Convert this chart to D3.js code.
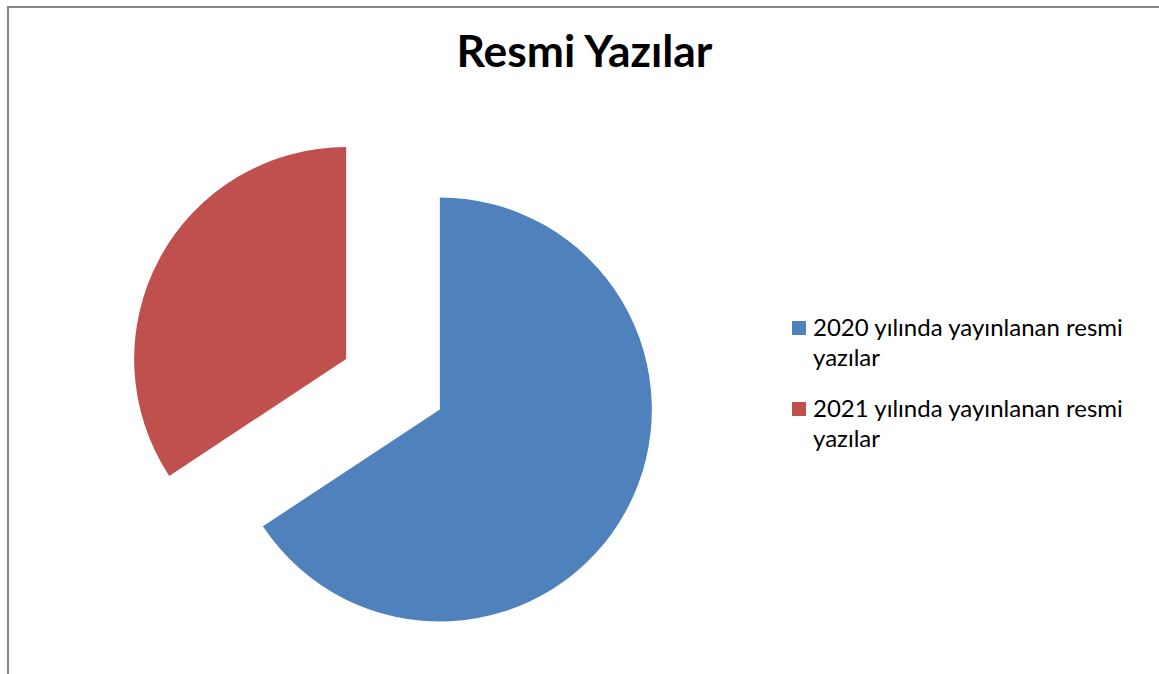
<!DOCTYPE html>
<html>
<head>
<meta charset="utf-8">
<script src="https://cdn.jsdelivr.net/npm/d3@7"></script>
<style>
  html, body { margin: 0; padding: 0; background: #ffffff; }
  svg { display: block; }
</style>
</head>
<body>
<svg id="chart" width="1159" height="674"></svg>
<script>
const title = "Resmi Yazılar";
const categories = ["2020 yılında yayınlanan resmi yazılar", "2021 yılında yayınlanan resmi yazılar"];
const legendLines = [["2020 yılında yayınlanan resmi", "yazılar"], ["2021 yılında yayınlanan resmi", "yazılar"]];
const values = [23, 12];
const colors = ["#4F81BD", "#C0504D"];

const W = 1159, H = 674;
const svg = d3.select("#chart");
const FONT = "Lato, 'Open Sans', 'Liberation Sans', sans-serif";

// border (top and left visible)
svg.append("path")
  .attr("d", `M8,${H} L8,7 L${W},7`)
  .attr("fill", "none")
  .attr("stroke", "#868686")
  .attr("stroke-width", 2);

function fitSize(sel, target) {
  const w = sel.node().getComputedTextLength();
  const fs = parseFloat(sel.attr("font-size"));
  return fs * target / w;
}

// title
const t = svg.append("text")
  .attr("x", 584.5).attr("y", 67)
  .attr("text-anchor", "middle")
  .attr("font-family", FONT)
  .attr("font-weight", "bold")
  .attr("font-size", 34)
  .attr("fill", "#000")
  .text(title);
t.attr("font-size", fitSize(t, 256));

// pie
const cx = 393, cy = 384.3, R = 212, explode = 53.2;
const data = categories.map((c, i) => ({ name: c, value: values[i], color: colors[i] }));
const pie = d3.pie().value(d => d.value).sort(null);
const arc = d3.arc().innerRadius(0).outerRadius(R);
const arcs = pie(data);

const g = svg.append("g").attr("transform", `translate(${cx},${cy})`);
g.selectAll("path.slice")
  .data(arcs)
  .join("path")
  .attr("class", "slice")
  .attr("d", arc)
  .attr("fill", d => d.data.color)
  .attr("transform", d => {
    const mid = (d.startAngle + d.endAngle) / 2;
    return `translate(${explode * Math.sin(mid)},${-explode * Math.cos(mid)})`;
  });

// legend
const legendX = 792, legendY0 = 321, entryGap = 81, lineH = 30;
const lg = svg.append("g");
data.forEach((d, i) => {
  const y = legendY0 + i * entryGap;
  lg.append("rect")
    .attr("x", legendX).attr("y", y)
    .attr("width", 14).attr("height", 14)
    .attr("fill", d.color);
  legendLines[i].forEach((line, j) => {
    lg.append("text")
      .attr("x", 813).attr("y", y + 15 + j * lineH)
      .attr("font-family", FONT)
      .attr("font-size", 20)
      .attr("fill", "#000")
      .text(line);
  });
});
const firstLine = lg.select("text");
const legendFs = fitSize(firstLine, 310);
lg.selectAll("text").attr("font-size", legendFs);
</script>
</body>
</html>
